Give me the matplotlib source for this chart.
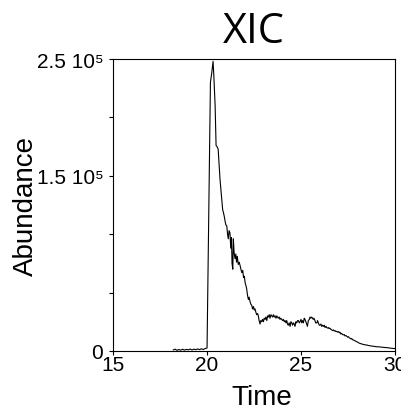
import matplotlib
matplotlib.use("Agg")
import matplotlib.pyplot as plt

# retention time (min) and abundance (counts)
time = [18.2, 18.3, 18.4, 18.5, 18.6, 18.7, 18.8, 18.9, 19.0, 19.1, 19.2, 19.3,
        19.4, 19.5, 19.6, 19.7, 19.8, 19.9, 20.0,
        20.18, 20.25, 20.32, 20.36, 20.43, 20.48, 20.53, 20.59, 20.64, 20.69,
        20.75, 20.80, 20.83, 20.88, 20.93, 20.96, 21.00, 21.05, 21.09, 21.13,
        21.17, 21.22, 21.26, 21.30, 21.33, 21.37, 21.40, 21.44, 21.49, 21.53,
        21.57, 21.61, 21.66, 21.71, 21.76, 21.80, 21.85, 21.90, 21.94, 21.98,
        22.03, 22.07, 22.11, 22.15, 22.20, 22.24, 22.29, 22.33, 22.38, 22.42,
        22.47, 22.51, 22.55, 22.60, 22.64, 22.69, 22.73, 22.77, 22.82, 22.86,
        22.91, 22.95, 23.00, 23.04, 23.09, 23.13, 23.18, 23.22, 23.26, 23.31,
        23.35, 23.40, 23.44, 23.49, 23.53, 23.58, 23.62, 23.67, 23.71, 23.75,
        23.79, 23.84, 23.88, 23.93, 23.97, 24.02, 24.06, 24.11, 24.15, 24.20,
        24.24, 24.28, 24.32, 24.37, 24.42, 24.46, 24.51, 24.55, 24.60, 24.64,
        24.68, 24.73, 24.77, 24.82, 24.86, 24.91, 24.95, 25.00, 25.04, 25.08,
        25.13, 25.17, 25.21, 25.26, 25.30, 25.34, 25.39, 25.44, 25.48, 25.52,
        25.57, 25.61, 25.65, 25.69, 25.74, 25.78, 25.84, 25.88, 25.92, 25.97,
        26.01, 26.06, 26.10, 26.15, 26.19, 26.24, 26.28, 26.33, 26.37, 26.42,
        26.46, 26.50, 26.54, 26.59, 26.63, 26.68, 26.72, 26.77, 26.81, 26.86,
        26.90, 26.95, 27.00, 27.04, 27.07, 27.12, 27.16, 27.21, 27.25, 27.30,
        27.34, 27.39, 27.43, 27.48, 27.52, 27.57, 27.61, 27.66, 27.70, 27.74,
        27.78, 27.83, 27.87, 27.92, 27.96, 28.01, 28.06, 28.12, 28.18, 28.23,
        28.30, 28.36, 28.43, 28.49, 28.56, 28.63, 28.70, 28.78, 28.85, 28.92,
        29.00, 29.10, 29.20, 29.30, 29.40, 29.50, 29.56, 29.65, 29.75, 29.82,
        29.90, 30.00]
abundance_k = [0.8, 1.5, 0.5, 1.2, 0.6, 1.4, 0.7, 1.3, 0.9, 1.6, 0.8, 1.5,
               1.0, 1.7, 1.1, 1.8, 1.2, 2.0, 2.5,
               230, 238, 248, 236, 210, 176, 175, 173, 160, 147,
               136, 126, 121, 118, 114, 111, 108, 107, 100, 96,
               103, 101, 88, 97, 75, 70, 96, 84, 79, 83,
               76, 81, 74, 76, 73, 70, 67, 69, 63, 64,
               58, 56, 53, 48, 44, 46, 42, 40, 39, 36,
               38, 35, 36, 33, 31, 32, 30, 26, 23, 26,
               25, 27, 25, 28, 27, 29, 26, 30, 29, 31,
               28, 31, 30, 29, 31, 29, 30, 28, 30, 29,
               28, 29, 27, 28, 27, 26, 27, 25, 26, 24,
               26, 23, 22, 24, 21, 25, 24, 22, 24, 23,
               21, 25, 24, 26, 26, 24, 25, 27, 24, 26,
               24, 28, 27, 25, 23, 21, 26, 27, 29, 28,
               29, 28, 27, 28, 26, 24, 24, 26, 24, 22,
               22, 23, 21, 22, 21, 22, 20, 21, 20, 19.5,
               20, 19, 19.5, 18.5, 18, 17.5, 18, 17, 17.4, 16.5,
               16.8, 16, 16.5, 15.5, 16, 14.5, 15, 14, 13.7, 14,
               12.8, 13.2, 12.6, 11.8, 12.2, 11.2, 10.9, 10.2, 10.6, 9.6,
               9.4, 9.0, 8.6, 8.2, 7.9, 7.4, 7.0, 6.5, 6.2, 6.0,
               5.6, 5.4, 5.1, 5.1, 4.7, 4.5, 4.3, 4.1, 4.0, 3.8,
               3.6, 3.5, 3.4, 3.2, 3.0, 2.9, 2.8, 2.6, 2.4, 2.3,
               2.1, 2.0]
abundance = [a * 1000 for a in abundance_k]

x_ticks = [15, 20, 25, 30]
y_ticks = [0, 50000, 100000, 150000, 200000, 250000]
y_tick_labels = ['0', '', '', '1.5 10\u2075', '', '2.5 10\u2075']

plt.rcParams['font.family'] = ['Liberation Sans', 'DejaVu Sans']

fig = plt.figure(figsize=(4.01, 4.14), dpi=100)
ax = fig.add_axes([0.282, 0.150, 0.703, 0.705])

ax.plot(time, abundance, color='black', lw=0.8)

ax.set_xlim(15, 30)
ax.set_ylim(0, 250000)
ax.set_xticks(x_ticks)
ax.set_xticklabels([str(t) for t in x_ticks])
ax.set_yticks(y_ticks)
ax.set_yticklabels(y_tick_labels)

ax.tick_params(axis='both', direction='out', length=3, width=0.8, labelsize=15)
ax.tick_params(axis='x', pad=0)
ax.tick_params(axis='y', pad=4)
for s in ax.spines.values():
    s.set_linewidth(0.8)

ax.set_xlabel('Time', fontsize=20)
ax.xaxis.set_label_coords(0.528, -0.115)
ax.set_ylabel('Abundance', fontsize=20)
ax.yaxis.set_label_coords(-0.262, 0.5)

ax.set_title('XIC', fontsize=30, fontfamily='Open Sans', pad=12)

fig.savefig('out.png', dpi=100)
